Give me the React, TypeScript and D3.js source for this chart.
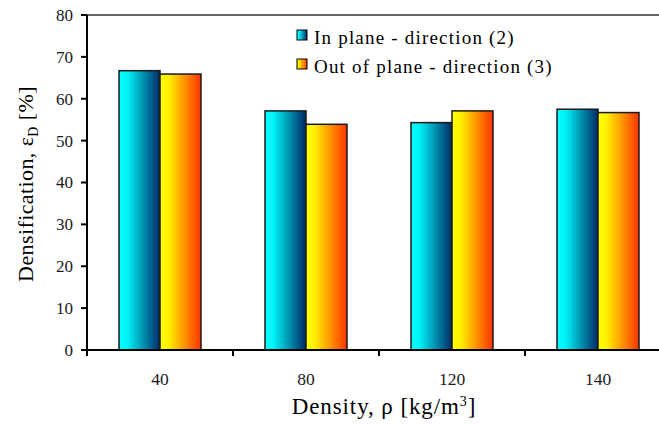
import React from "react";
import * as d3 from "d3";

// Densification by foam density, two loading directions
const densities = ["40", "80", "120", "140"];
const inPlane = [66.7, 57.1, 54.3, 57.5];
const outOfPlane = [65.9, 53.9, 57.1, 56.7];
const seriesNames = ["In plane - direction (2)", "Out of plane - direction (3)"];
const yTicks = [0, 10, 20, 30, 40, 50, 60, 70, 80];

const W = 659;
const H = 425;
const left = 87;
const right = 671;
const top = 15;
const bottom = 350;

const serif = { fontFamily: "Liberation Serif" };

export default function App() {
  const x = d3.scaleBand<string>().domain(densities).range([left, right]).paddingInner(0).paddingOuter(0);
  const y = d3.scaleLinear().domain([0, 80]).range([bottom, top]);
  const inner = d3.scaleBand<number>().domain([0, 1]).range([0, 82]);
  const series = [inPlane, outOfPlane];
  const fills = ["url(#gradCyan)", "url(#gradYellow)"];

  return (
    <svg width={W} height={H} style={{ position: "absolute", left: 0, top: 0 }}>
      <defs>
        <linearGradient id="gradCyan" x1="0" x2="1" y1="0" y2="0">
          <stop offset="0" stopColor="#00ffff" />
          <stop offset="0.2" stopColor="#00f4f8" />
          <stop offset="1" stopColor="#002a66" />
        </linearGradient>
        <linearGradient id="gradYellow" x1="0" x2="1" y1="0" y2="0">
          <stop offset="0" stopColor="#ffff00" />
          <stop offset="0.2" stopColor="#fff200" />
          <stop offset="1" stopColor="#ff3300" />
        </linearGradient>
      </defs>
      <rect x={0} y={0} width={W} height={H} fill="#ffffff" />

      {/* top frame line */}
      <line x1={left} x2={W} y1={top} y2={top} stroke="#333" strokeWidth={1.5} />

      {/* bars */}
      {densities.map((d, i) => {
        const cx = (x(d) as number) + x.bandwidth() / 2;
        return series.map((s, k) => (
          <rect
            key={d + k}
            x={cx - 41 + (inner(k) as number)}
            y={y(s[i])}
            width={inner.bandwidth()}
            height={bottom - y(s[i])}
            fill={fills[k]}
            stroke="#1a1a1a"
            strokeWidth={1.5}
          />
        ));
      })}

      {/* y axis */}
      <line x1={left} x2={left} y1={top} y2={bottom + 6} stroke="#000" strokeWidth={2} />
      {yTicks.map((t) => (
        <g key={t}>
          <line x1={left - 6} x2={left} y1={y(t)} y2={y(t)} stroke="#000" strokeWidth={2} />
          <text x={left - 14} y={y(t)} dy="0.35em" textAnchor="end" fontSize={17} fill="#1a1a1a" style={serif}>
            {t}
          </text>
        </g>
      ))}

      {/* x axis */}
      <line x1={left - 6} x2={W} y1={bottom} y2={bottom} stroke="#000" strokeWidth={2} />
      {densities.map((d) => (
        <g key={d}>
          <line x1={x(d) as number} x2={x(d) as number} y1={bottom} y2={bottom + 6} stroke="#000" strokeWidth={2} />
          <text
            x={(x(d) as number) + x.bandwidth() / 2}
            y={385}
            textAnchor="middle"
            fontSize={17.5}
            fill="#1a1a1a"
            style={serif}
          >
            {d}
          </text>
        </g>
      ))}

      {/* axis titles */}
      <text x={384} y={414} textAnchor="middle" fontSize={23} letterSpacing={0.9} fill="#000" style={serif}>
        Density, ρ [kg/m<tspan dy={-8} fontSize={14}>3</tspan>
        <tspan dy={8}>]</tspan>
      </text>
      <text
        transform={`translate(33,${184}) rotate(-90)`}
        textAnchor="middle"
        fontSize={22}
        letterSpacing={0.4}
        fill="#000"
        style={serif}
      >
        Densification, ε<tspan dy={5} fontSize={14}>D</tspan>
        <tspan dy={-5}> [%]</tspan>
      </text>

      {/* legend */}
      {seriesNames.map((n, k) => (
        <g key={n} transform={`translate(297,${35 + k * 29})`}>
          <rect x={0} y={-5} width={10} height={10} fill={fills[k]} stroke="#000" strokeWidth={1} />
          <text x={17} y={9} fontSize={19} letterSpacing={1.2} fill="#000" style={serif}>
            {n}
          </text>
        </g>
      ))}
    </svg>
  );
}
